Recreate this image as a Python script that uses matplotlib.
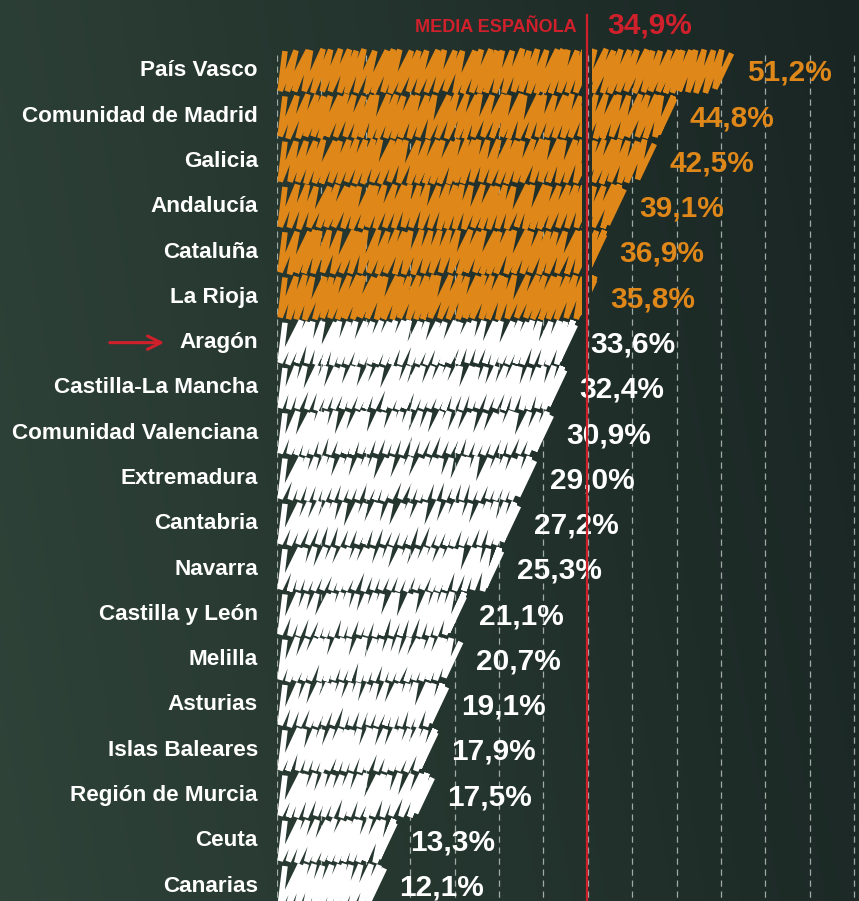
import numpy as np
import matplotlib
matplotlib.use("Agg")
import matplotlib.pyplot as plt
from matplotlib.patches import Rectangle

plt.rcParams['font.family'] = ['Liberation Sans', 'DejaVu Sans']

# Data
regions = ["País Vasco", "Comunidad de Madrid", "Galicia", "Andalucía", "Cataluña",
           "La Rioja", "Aragón", "Castilla-La Mancha", "Comunidad Valenciana",
           "Extremadura", "Cantabria", "Navarra", "Castilla y León", "Melilla",
           "Asturias", "Islas Baleares", "Región de Murcia", "Ceuta", "Canarias"]
values = [51.2, 44.8, 42.5, 39.1, 36.9, 35.8, 33.6, 32.4, 30.9, 29.0,
          27.2, 25.3, 21.1, 20.7, 19.1, 17.9, 17.5, 13.3, 12.1]
media = 34.9
media_label = "MEDIA ESPAÑOLA"
highlight = "Aragón"

ORANGE = "#df8719"
WHITE = "#ffffff"
RED = "#d0202b"
GRID = "#b9c2bd"

fig = plt.figure(figsize=(8.59, 9.01), dpi=100)

# background gradient
bg = fig.add_axes([0, 0, 1, 1])
X, Y = np.meshgrid(np.linspace(0, 1, 300), np.linspace(0, 1, 300))
t = np.clip(0.85 * X + 0.15 * (1 - Y), 0, 1)
c_left = np.array([47, 67, 57]) / 255
c_right = np.array([25, 37, 35]) / 255
img = c_left * (1 - t[..., None]) + c_right * t[..., None]
bg.imshow(img, aspect='auto', extent=[0, 1, 0, 1])
bg.axis('off')

# main axes: x=0 at 277px, 8.88 px per unit; rows 45.28 px apart, first row at y=71px
px_x = 8.88
px_y = 45.28
ax = fig.add_axes([277 / 859, 0, 582 / 859, 1])
ax.set_xlim(0, 582 / px_x)
ax.set_ylim(len(regions) - 1 + (901 - 886) / px_y, -71 / px_y)
ax.axis('off')

# dashed grid
for g in range(0, 70, 5):
    ax.plot([g, g], [-0.35, len(regions)], color=GRID, lw=0.9, dashes=(5, 3.8),
            alpha=0.85, zorder=1)


def wobble(i, seed):
    # deterministic hand-drawn wobble in [0, 1)
    s = np.sin(i * 12.9898 + seed * 78.233) * 43758.5453
    return s - np.floor(s)


def scribble(v, row, color, cut=None):
    lean = 2.1
    step = 0.95
    h = 0.44
    xs, ys = [0.9, 0.35], [row - h, row + h]
    k = 0.35
    i = 0
    while k + lean < v:
        top = min(k + lean * (0.85 + 0.3 * wobble(i, row)), v)
        xs += [top]
        ys += [row - h - 0.05 * wobble(i, row + 3)]
        k += step * (0.8 + 0.4 * wobble(i, row + 7))
        if k + lean < v:
            xs += [k]
            ys += [row + h + 0.05 * wobble(i, row + 5)]
        i += 1
    xs += [v - lean * 0.9, v]
    ys += [row + h - 0.05, row - h + 0.05]
    kw = dict(color=color, lw=4.0, solid_joinstyle='miter', solid_capstyle='butt', zorder=2)
    if cut is None:
        ax.plot(xs, ys, **kw)
    else:
        for x0, x1 in [(-1, cut - 0.6), (cut + 0.6, 100)]:
            ln, = ax.plot(xs, ys, **kw)
            ln.set_clip_path(Rectangle((x0, row - 1), x1 - x0, 2, transform=ax.transData))


for i, (name, v) in enumerate(zip(regions, values)):
    above = v > media
    col = ORANGE if above else WHITE
    scribble(v, i, col, cut=media if above else None)
    ax.text(-19 / px_x, i, name, ha='right', va='center', fontsize=16.2,
            fontweight='bold', color=WHITE)
    ax.text(v + 15 / px_x, i + 0.04, f"{v:.1f}%".replace('.', ','), ha='left',
            va='center', fontsize=21.5, fontweight='bold', color=col)

# average line and header
ax.plot([media, media], [-1.24, len(regions)], color=RED, lw=1.6, zorder=3)
ax.text(media - 10 / px_x, -0.95, media_label, ha='right', va='center',
        fontsize=13, fontweight='bold', color=RED)
ax.text(media + 20 / px_x, -1.0, f"{media:.1f}%".replace('.', ','), ha='left',
        va='center', fontsize=21.5, fontweight='bold', color=RED)

# arrow pointing to highlighted region
hi = regions.index(highlight)
ax.annotate('', xy=(-110 / px_x, hi), xytext=(-170 / px_x, hi),
            arrowprops=dict(arrowstyle='->', color=RED, lw=2.2, mutation_scale=24),
            annotation_clip=False)

fig.savefig("out.png", dpi=100)
